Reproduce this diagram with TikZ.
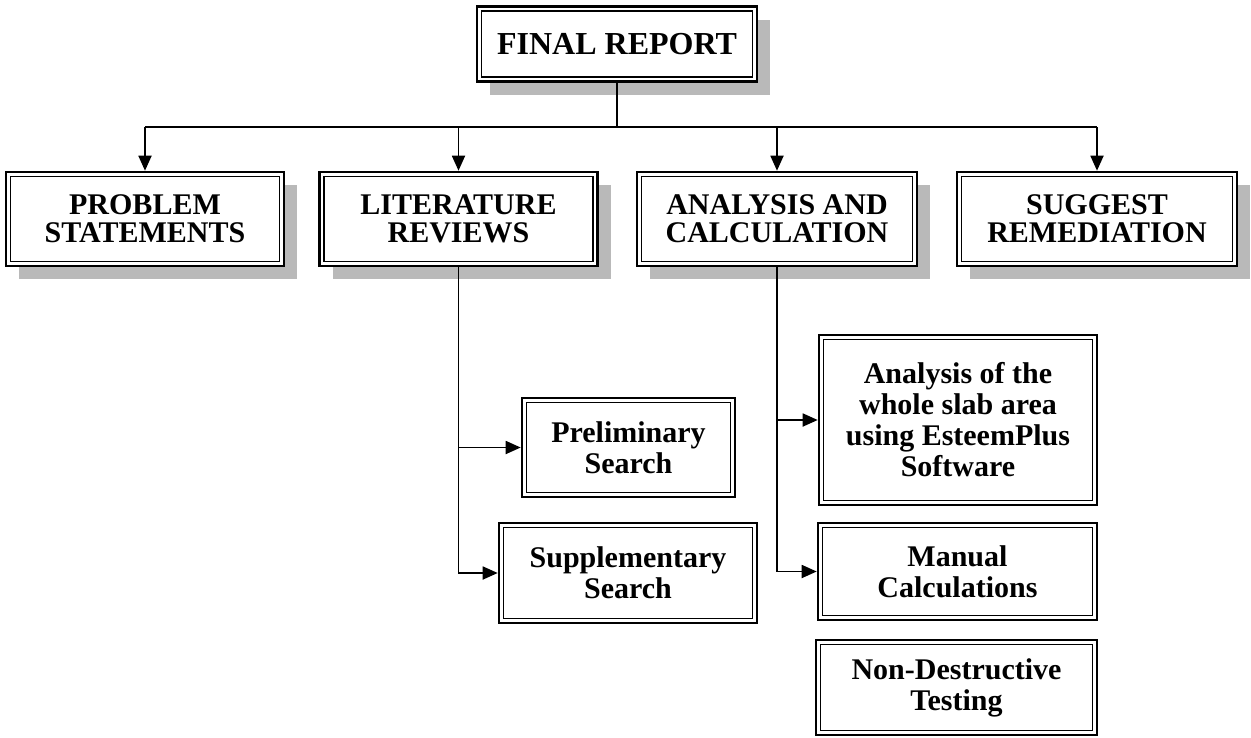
\documentclass[tikz,border=0pt]{standalone}
\usepackage{fontspec}
\setmainfont{Liberation Serif}
\usetikzlibrary{shadows,arrows.meta}
\begin{document}
\begin{tikzpicture}[x=1pt,y=-1pt,
 boxbase/.style={draw, line width=2.6pt, fill=white, inner sep=0pt, align=center,
   font=\bfseries\fontsize{30}{31}\selectfont,
   path picture={\draw[line width=1.1pt]
     ([shift={(4.5pt,4.5pt)}]path picture bounding box.south west) rectangle
     ([shift={(-4.5pt,-4.5pt)}]path picture bounding box.north east);}},
 topbox/.style={boxbase, drop shadow={shadow xshift=13pt, shadow yshift=-13pt, fill=gray!55, opacity=1},
   font=\bfseries\fontsize{30}{28}\selectfont},
 subbox/.style={boxbase},
 conn/.style={line width=1.8pt, -{Triangle[length=15pt,width=13pt]}},
 plainline/.style={line width=1.8pt}]
\useasboundingbox (0,0) rectangle (1251,737);

\node[topbox, minimum width=280pt, minimum height=75pt, font=\bfseries\fontsize{32}{30}\selectfont] (final) at (617,44) {FINAL REPORT};

\node[topbox, minimum width=278pt, minimum height=94pt] (prob) at (145,219) {PROBLEM\\STATEMENTS};
\node[topbox, minimum width=278pt, minimum height=94pt] (lit) at (458.5,219) {LITERATURE\\REVIEWS};
\node[topbox, minimum width=280pt, minimum height=94pt] (anal) at (777,219) {ANALYSIS AND\\CALCULATION};
\node[topbox, minimum width=280pt, minimum height=94pt] (sugg) at (1097,219) {SUGGEST\\REMEDIATION};

\node[subbox, minimum width=213pt, minimum height=99pt] (prelim) at (628.5,447.5) {Preliminary\\Search};
\node[subbox, minimum width=258pt, minimum height=100pt] (supp) at (628,573) {Supplementary\\Search};

\node[subbox, minimum width=278pt, minimum height=170pt] (whole) at (958,420) {Analysis of the\\whole slab area\\using EsteemPlus\\Software};
\node[subbox, minimum width=279pt, minimum height=97pt] (manual) at (957.5,571.5) {Manual\\Calculations};
\node[subbox, minimum width=281pt, minimum height=95pt] (ndt) at (956.5,687.5) {Non-Destructive\\Testing};

\coordinate (bus) at (617,127);
\draw[plainline] (final.south) -- (bus);
\draw[plainline] (bus -| prob.north) -- (bus -| sugg.north);
\foreach \n in {prob,lit,anal,sugg} \draw[conn] (bus -| \n.north) -- (\n.north);

\draw[conn] (lit.south) |- (supp.west);
\draw[conn] (lit.south |- prelim.west) -- (prelim.west);

\draw[conn] (anal.south) |- (manual.west);
\draw[conn] (anal.south |- whole.west) -- (whole.west);
\end{tikzpicture}
\end{document}
